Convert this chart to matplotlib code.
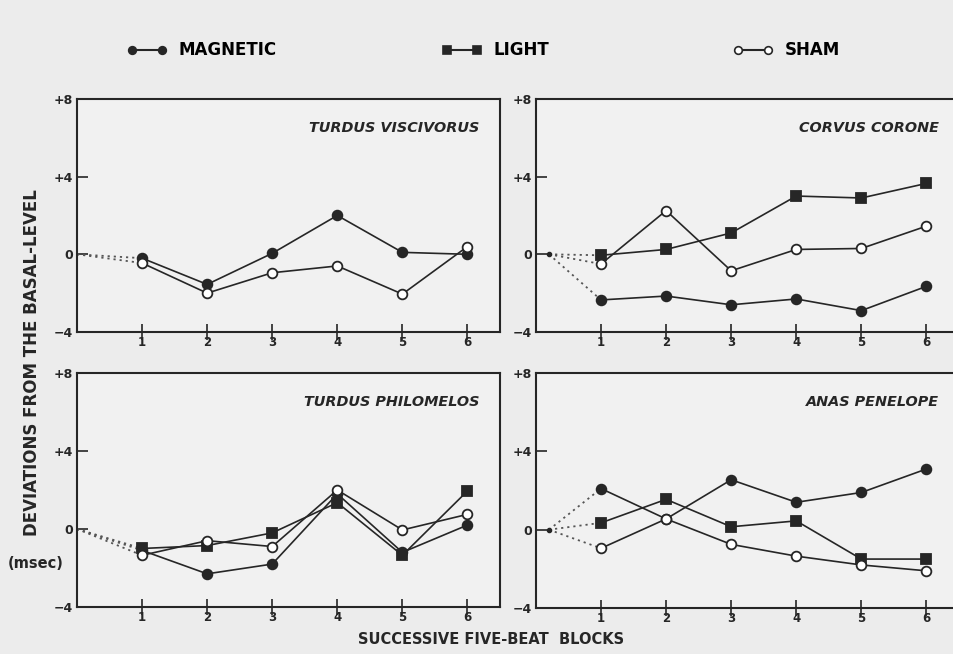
import numpy as np
import matplotlib
matplotlib.use('Agg')
import matplotlib.pyplot as plt
from matplotlib.lines import Line2D

plt.rcParams['font.family'] = ['DejaVu Sans']

# successive five-beat blocks
blocks = [1, 2, 3, 4, 5, 6]

# deviations from basal level (msec)
tv_magnetic = [-0.2, -1.55, 0.05, 2.0, 0.1, 0.0]
tv_sham = [-0.45, -2.0, -0.95, -0.6, -2.05, 0.4]

cc_magnetic = [-2.35, -2.15, -2.6, -2.3, -2.9, -1.65]
cc_light = [-0.05, 0.25, 1.1, 3.0, 2.9, 3.65]
cc_sham = [-0.5, 2.25, -0.85, 0.25, 0.3, 1.45]

tp_magnetic = [-1.1, -2.3, -1.8, 1.8, -1.2, 0.2]
tp_light = [-1.0, -0.85, -0.2, 1.35, -1.35, 1.95]
tp_sham = [-1.35, -0.6, -0.9, 2.0, -0.05, 0.75]

ap_magnetic = [2.1, 0.55, 2.55, 1.4, 1.9, 3.1]
ap_light = [0.35, 1.55, 0.15, 0.45, -1.5, -1.5]
ap_sham = [-0.95, 0.55, -0.75, -1.35, -1.8, -2.1]

y_ticks = [-4, 0, 4, 8]
y_ticklabels = ['\u22124', '0', '+4', '+8']

ink = '#262626'
paper = '#ececec'

styles = {
    'magnetic': dict(marker='o', mfc=ink, mec=ink),
    'light': dict(marker='s', mfc=ink, mec=ink),
    'sham': dict(marker='o', mfc='white', mec=ink),
}

panels = [
    # name, position, start of dotted lead-in, series
    ('TURDUS VISCIVORUS', [0.0807, 0.4924, 0.4434, 0.3563], 0.0,
     [('magnetic', tv_magnetic), ('sham', tv_sham)]),
    ('CORVUS CORONE', [0.5618, 0.4924, 0.4434, 0.3563], 0.2,
     [('magnetic', cc_magnetic), ('light', cc_light), ('sham', cc_sham)]),
    ('TURDUS PHILOMELOS', [0.0807, 0.0719, 0.4434, 0.3578], 0.0,
     [('magnetic', tp_magnetic), ('light', tp_light), ('sham', tp_sham)]),
    ('ANAS PENELOPE', [0.5618, 0.0703, 0.4434, 0.3593], 0.2,
     [('magnetic', ap_magnetic), ('light', ap_light), ('sham', ap_sham)]),
]

fig = plt.figure(figsize=(9.54, 6.54), dpi=100, facecolor=paper)

for name, pos, x0, series in panels:
    ax = fig.add_axes(pos)
    ax.set_facecolor('#f1f1f1')
    for key, vals in series:
        # dotted lead-in from basal level
        ax.plot([x0, blocks[0]], [0, vals[0]], ls=(0, (1.2, 2.2)), color='#555555', lw=1.3, zorder=2)
    if x0 > 0:
        ax.plot([x0], [0], 'o', color=ink, ms=3, zorder=3)
    for key, vals in series:
        ax.plot(blocks, vals, color=ink, lw=1.2, ms=7, mew=1.3, zorder=4, **styles[key])
    ax.set_xlim(0, 6.5)
    ax.set_ylim(-4, 8)
    ax.set_xticks(blocks)
    ax.set_xticklabels([str(b) for b in blocks], fontsize=8.5, fontweight='bold')
    ax.set_yticks(y_ticks)
    ax.set_yticklabels(y_ticklabels, fontsize=9, fontweight='bold')
    ax.tick_params(axis='x', direction='inout', length=12, width=1.2, pad=-3, colors=ink)
    ax.tick_params(axis='y', direction='in', length=8, width=1.2, pad=3, colors=ink)
    for sp in ax.spines.values():
        sp.set_linewidth(1.5)
        sp.set_color(ink)
    ax.text(0.952, 0.875, name, transform=ax.transAxes, ha='right', va='center',
            fontsize=10.4, fontweight='bold', fontstyle='italic', color=ink)

# legend across the top
legend_items = [('MAGNETIC', 'magnetic', 0.133), ('LIGHT', 'light', 0.463), ('SHAM', 'sham', 0.768)]
for label, key, xpos in legend_items:
    h = Line2D([0], [0], color=ink, lw=1.5, ms=5.5, mew=1.2, **styles[key])
    fig.legend([h], [label], loc='center left', bbox_to_anchor=(xpos, 0.923),
               frameon=False, numpoints=2, handlelength=2.4, handletextpad=0.7,
               borderaxespad=0, borderpad=0, prop={'weight': 'bold', 'size': 12})

fig.text(0.034, 0.445, 'DEVIATIONS FROM THE BASAL-LEVEL', rotation=90, ha='center', va='center',
         fontsize=12, fontweight='bold', color=ink)
fig.text(0.037, 0.139, '(msec)', ha='center', va='center', fontsize=10.5, fontweight='bold', color=ink)
fig.text(0.515, 0.022, 'SUCCESSIVE FIVE-BEAT  BLOCKS', ha='center', va='center',
         fontsize=10.5, fontweight='bold', color=ink)

fig.savefig('out.png', dpi=100, facecolor=paper)
